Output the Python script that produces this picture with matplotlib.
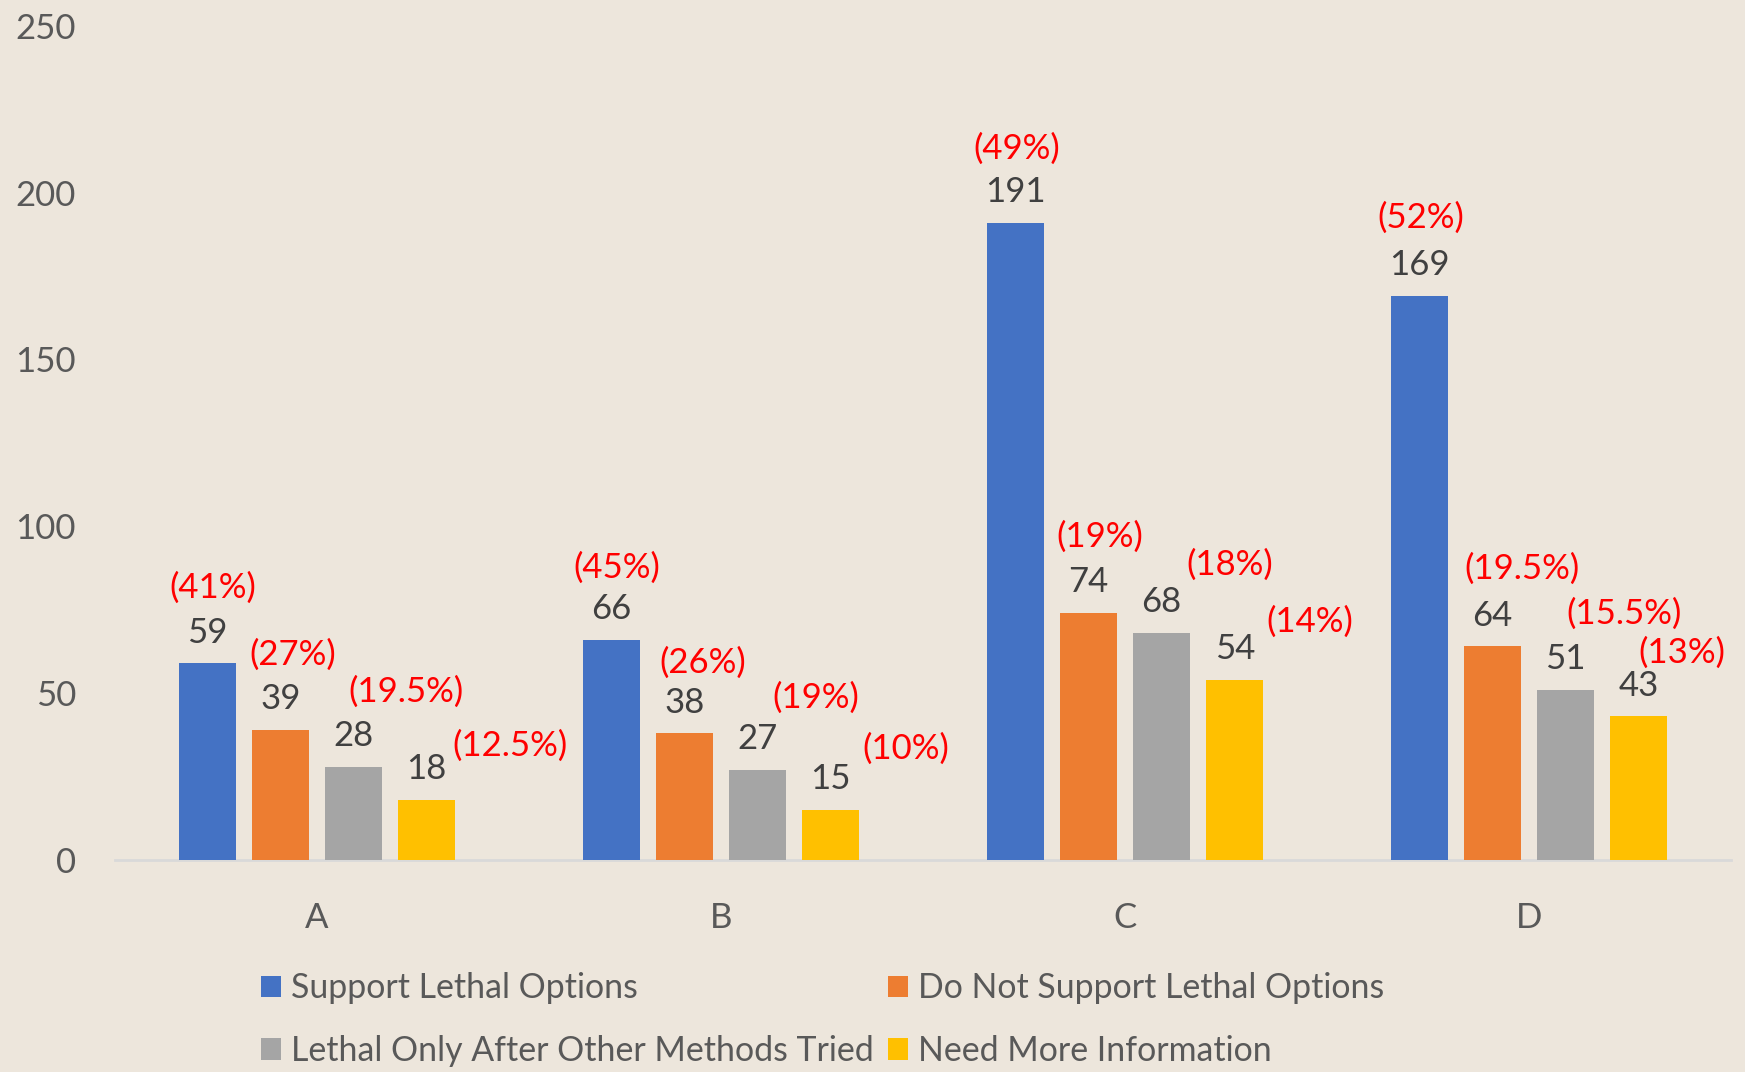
import numpy as np
import matplotlib
matplotlib.use("Agg")
from matplotlib import pyplot as plt
from matplotlib.patches import Patch

categories = ["A", "B", "C", "D"]
series_names = ["Support Lethal Options", "Do Not Support Lethal Options",
                "Lethal Only After Other Methods Tried", "Need More Information"]
support = [59, 66, 191, 169]
not_support = [39, 38, 74, 64]
after_other = [28, 27, 68, 51]
need_info = [18, 15, 54, 43]
pct_support = ["(41%)", "(45%)", "(49%)", "(52%)"]
pct_not_support = ["(27%)", "(26%)", "(19%)", "(19.5%)"]
pct_after_other = ["(19.5%)", "(19%)", "(18%)", "(15.5%)"]
pct_need_info = ["(12.5%)", "(10%)", "(14%)", "(13%)"]

series = [support, not_support, after_other, need_info]
pcts = [pct_support, pct_not_support, pct_after_other, pct_need_info]
colors = ["#4472C4", "#ED7D31", "#A5A5A5", "#FFC000"]

# hand placed percent labels (offset in points from bar top), [series][category]
pct_offsets = [
    [(4, 54), (4, 52), (1, 53), (1, 56)],
    [(9, 54), (13, 51), (8, 55), (21, 56)],
    [(38, 54), (42, 52), (49, 49), (42, 55)],
    [(60, 39), (54, 44), (54, 42), (31, 46)],
]

bg = "#EDE6DC"
plt.rcParams["font.family"] = ["Lato", "DejaVu Sans"]
fs = 25

fig = plt.figure(figsize=(17.45, 10.72), dpi=100, facecolor=bg)
ax = fig.add_axes([0.0659, 0.1978, 0.9261, 0.7782])
ax.set_facecolor(bg)

x = np.arange(len(categories))
width = 0.141
step = 0.181
for i, vals in enumerate(series):
    pos = x + (i - 1.5) * step
    bars = ax.bar(pos, vals, width, color=colors[i], zorder=3)
    for j, b in enumerate(bars):
        top = b.get_height()
        cx = b.get_x() + b.get_width() / 2
        ax.annotate(str(vals[j]), (cx, top), xytext=(0, 22), textcoords="offset points",
                    ha="center", va="center", fontsize=fs, color="#404040")
        ax.annotate(pcts[i][j], (cx, top), xytext=pct_offsets[i][j], textcoords="offset points",
                    ha="center", va="center", fontsize=fs, color="#FF0000")

ax.set_xlim(-0.5, 3.5)
ax.set_ylim(0, 250)
ax.set_yticks(range(0, 251, 50))
ax.set_xticks(x)
ax.set_xticklabels(categories)
ax.tick_params(axis="both", length=0, labelsize=fs, labelcolor="#595959")
ax.tick_params(axis="x", pad=30)
ax.tick_params(axis="y", pad=28)
for s in ["top", "right", "left"]:
    ax.spines[s].set_visible(False)
ax.spines["bottom"].set_color("#D9D9D9")
ax.spines["bottom"].set_linewidth(2)

# legend fills column-wise, so reorder to read row-wise
order = [0, 2, 1, 3]
handles = [Patch(facecolor=colors[k]) for k in order]
labels = [series_names[k] for k in order]
fig.legend(handles, labels, loc="center", bbox_to_anchor=(0.4714, 0.0488), ncol=2,
           frameon=False, fontsize=24.4, labelcolor="#595959", handlelength=0.6,
           handleheight=0.6, handletextpad=0.3, columnspacing=0.4, labelspacing=0.9,
           borderpad=0)

fig.savefig("out.png", dpi=100, facecolor=bg)
